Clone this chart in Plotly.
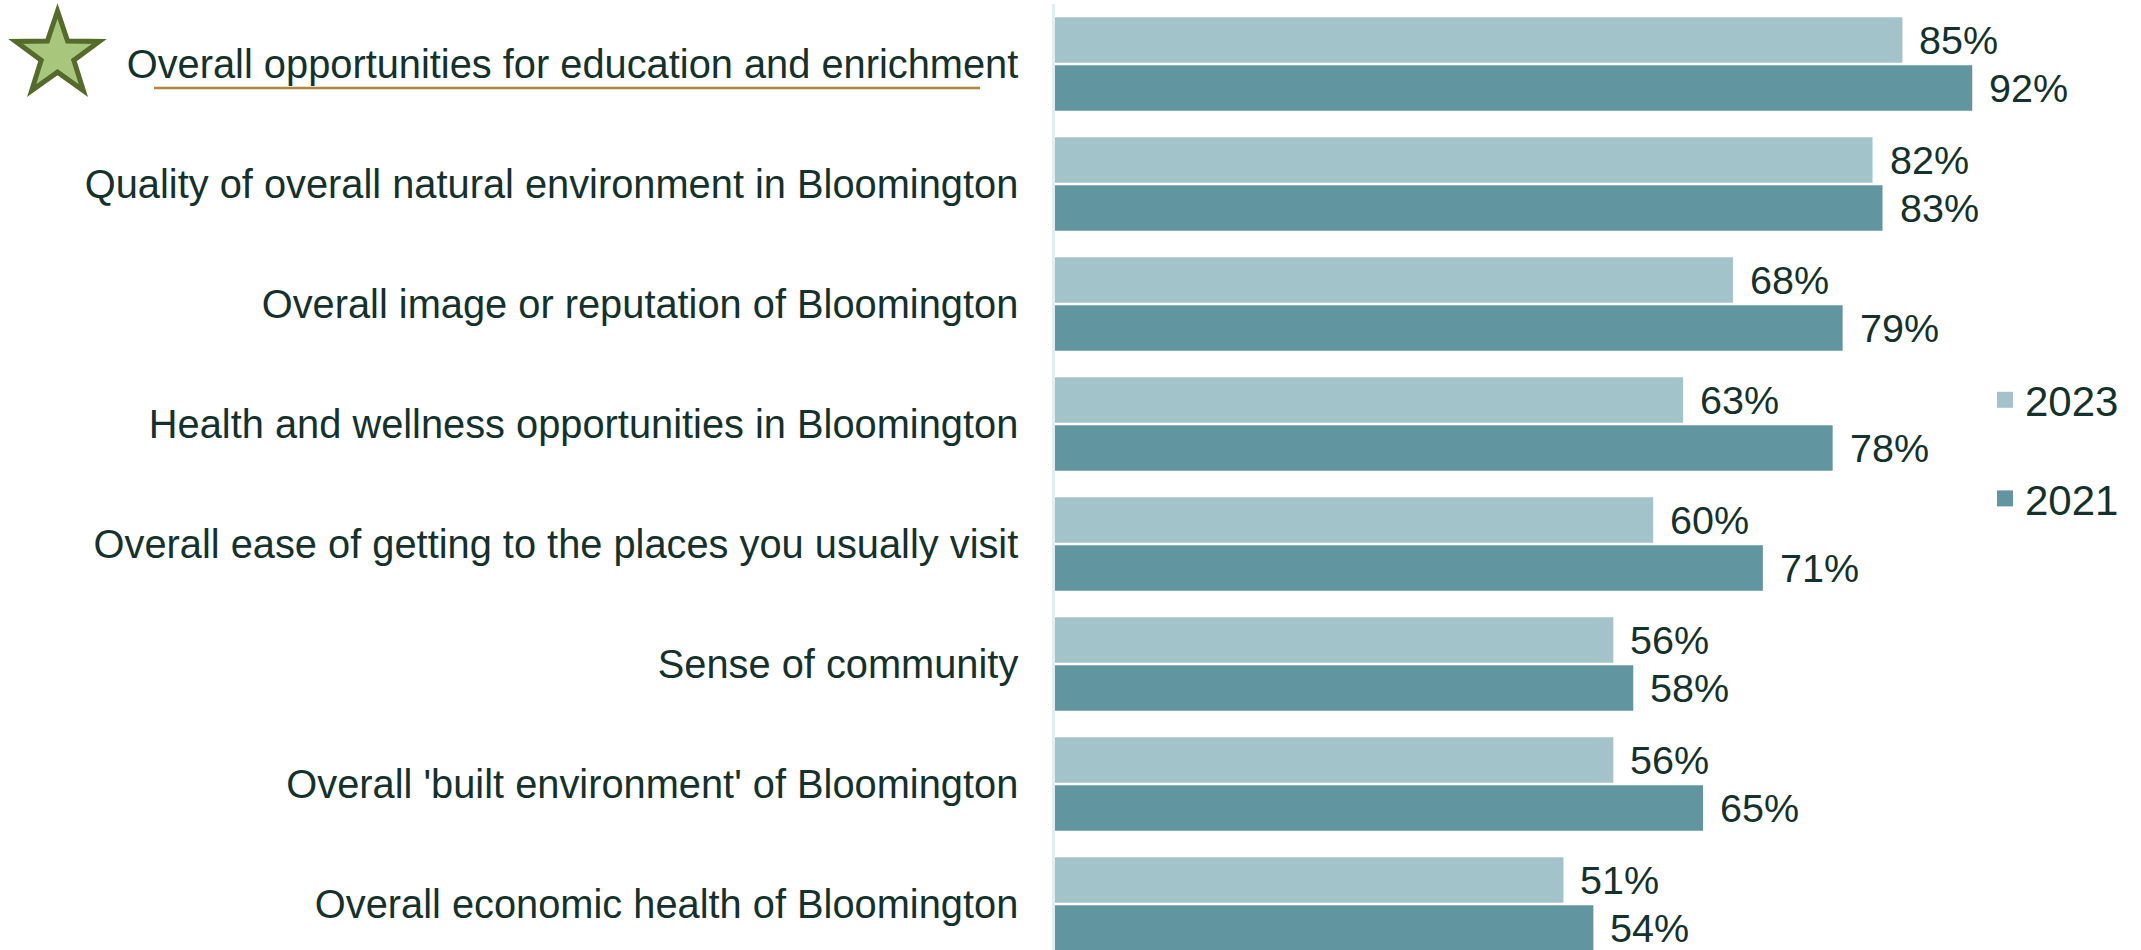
import math
import plotly.graph_objects as go

categories = [
    "Overall opportunities for education and enrichment",
    "Quality of overall natural environment in Bloomington",
    "Overall image or reputation of Bloomington",
    "Health and wellness opportunities in Bloomington",
    "Overall ease of getting to the places you usually visit",
    "Sense of community",
    "Overall 'built environment' of Bloomington",
    "Overall economic health of Bloomington",
]
values_2023 = [85, 82, 68, 63, 60, 56, 56, 51]
values_2021 = [92, 83, 79, 78, 71, 58, 65, 54]
series_names = ["2023", "2021"]

W, H = 2141, 950
TOP = 4
FONT = "Arial, Liberation Sans, sans-serif"
TXT = "#14312c"
C23 = "#a2c3ca"
C21 = "#6195a0"

fig = go.Figure()
fig.add_trace(go.Bar(y=categories, x=values_2023, orientation="h", name=series_names[0],
                     marker=dict(color=C23, line=dict(width=0)), showlegend=False))
fig.add_trace(go.Bar(y=categories, x=values_2021, orientation="h", name=series_names[1],
                     marker=dict(color=C21, line=dict(width=0)), showlegend=False))
# legend entries
for nm, col in zip(series_names, [C23, C21]):
    fig.add_trace(go.Scatter(x=[None], y=[None], mode="markers", name=nm, legendgroup=nm,
                             marker=dict(symbol="square", size=20, color=col)))

# value labels
ann = []
for vals, ysh in [(values_2023, 24), (values_2021, -24)]:
    for c, v in zip(categories, vals):
        ann.append(dict(x=v, y=c, xref="x", yref="y", text=f"{v}%", showarrow=False,
                        xanchor="left", yanchor="middle", xshift=15, yshift=ysh,
                        font=dict(family=FONT, size=39.5, color=TXT)))

def px2x(px):
    return px / W

def px2y(py):
    return 1 - (py - TOP) / (H - TOP)

# star decoration
cx, cy, R, r = 57.5, 55, 44, 44 * 0.39
pts = []
for k in range(10):
    ang = -math.pi / 2 + k * math.pi / 5
    rad = R if k % 2 == 0 else r
    pts.append((cx + rad * math.cos(ang), cy + rad * math.sin(ang)))
path = "M " + " L ".join(f"{px2x(x):.5f},{px2y(y):.5f}" for x, y in pts) + " Z"

shapes = [
    dict(type="path", xref="paper", yref="paper", path=path,
         fillcolor="#a8c67c", line=dict(color="#556b2b", width=5)),
    dict(type="line", xref="paper", yref="paper", x0=px2x(154), x1=px2x(980),
         y0=px2y(88), y1=px2y(88), line=dict(color="#b5833f", width=2.5)),
]

xdom0 = 1055 / W
fig.update_layout(
    width=W, height=H,
    margin=dict(l=0, r=0, t=TOP, b=0),
    paper_bgcolor="white", plot_bgcolor="white",
    barmode="group", bargap=0.2, bargroupgap=0.05,
    font=dict(family=FONT, color=TXT),
    xaxis=dict(domain=[xdom0, 1], range=[0, (W - 1055) / 9.97], visible=False,
               showgrid=False, zeroline=False, fixedrange=True),
    yaxis=dict(categoryorder="array", categoryarray=categories,
               range=[-0.5 + (H - TOP) / 120.0, -0.5],
               showgrid=False, zeroline=False, ticks="", ticklabelstandoff=26,
               showline=True, linecolor="#e0eeee", linewidth=2.5,
               tickfont=dict(family=FONT, size=39.8, color=TXT)),
    legend=dict(x=1985 / W, xanchor="left", y=px2y(449.5), yanchor="middle",
                font=dict(family=FONT, size=42, color=TXT),
                tracegroupgap=41, bgcolor="rgba(0,0,0,0)", traceorder="grouped"),
    annotations=ann,
    shapes=shapes,
)

fig.write_html("out.html", config={"displayModeBar": False},
               post_script="document.body.style.margin='0';document.body.style.overflow='hidden';")
